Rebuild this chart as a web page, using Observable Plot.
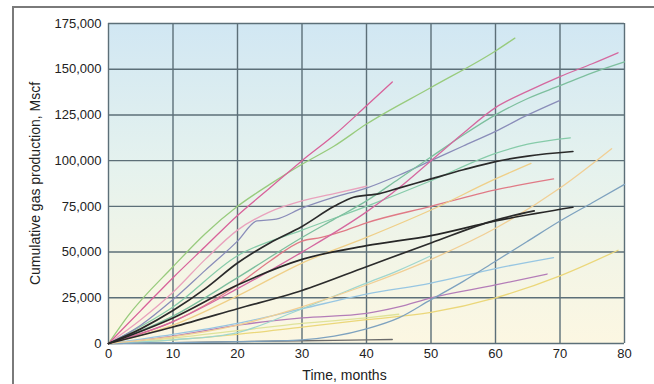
<!DOCTYPE html>
<html>
<head>
<meta charset="utf-8">
<script src="https://cdn.jsdelivr.net/npm/d3@7"></script>
<script src="https://cdn.jsdelivr.net/npm/@observablehq/plot@0.6"></script>
<style>
  html, body { margin: 0; padding: 0; background: #fff; }
  #wrap { position: relative; width: 654px; height: 384px; overflow: hidden; }
  #frame { position: absolute; left: 12px; top: 6px; width: 700px; height: 400px;
           border-left: 2px solid #7a7a7a; border-top: 2px solid #7a7a7a; pointer-events: none; }
  #chart { position: absolute; left: 0; top: 0; }
</style>
</head>
<body>
<div id="wrap"><div id="chart"></div><div id="frame"></div></div>
<script>
// ---- Data (months, Mscf) ----
const xTicks = [0, 10, 20, 30, 40, 50, 60, 70, 80];
const yTicks = [0, 25000, 50000, 75000, 100000, 125000, 150000, 175000];

const pinkA   = [[0,0],[5,18000],[10,36000],[15,53000],[20,70000],[25,85000],[30,100000],[35,114000],[40,130000],[44,143000]];
const greenA  = [[0,0],[3,15000],[10,42000],[15,60000],[20,75000],[25,87000],[30,98000],[35,108000],[40,120000],[50,140000],[60,160000],[63,167000]];
const pinkB   = [[0,0],[10,12000],[20,30000],[30,50000],[40,72000],[45,85000],[50,100000],[55,115000],[60,129000],[65,138000],[70,146000],[75,153000],[79,159000]];
const tealD   = [[0,0],[10,15000],[20,36000],[30,58000],[35,68000],[40,78000],[45,90000],[50,102000],[55,114000],[60,125000],[65,134000],[70,141000],[75,148000],[80,154000]];
const purpleE = [[0,0],[5,10000],[10,24000],[15,40000],[20,56000],[23,67000],[26,68000],[30,74000],[35,80000],[40,85000],[45,92000],[50,100000],[55,108000],[60,116000],[65,125000],[70,133000]];
const lightPink = [[0,0],[5,13000],[10,28000],[15,46000],[20,62000],[25,72000],[30,78000],[35,82000],[40,86000]];
const greenF  = [[0,0],[10,20000],[20,48000],[30,62000],[40,75000],[50,89000],[60,104000],[65,109000],[71.6,112500]];
const yellowJ = [[0,0],[10,10000],[20,26000],[30,44000],[40,58000],[50,73000],[60,90000],[65.5,98500]];
const pinkK   = [[0,0],[10,12000],[20,32000],[25,45000],[30,56000],[33,58000],[36,61000],[40,66000],[50,75000],[60,84000],[69,90000]];
const yellowB = [[0,0],[20,10000],[30,20000],[40,32000],[50,46000],[60,63000],[70,85000],[78,106500]];
const grayBlue = [[0,0],[10,500],[20,1000],[30,2000],[35,4000],[40,8000],[45,14000],[50,24000],[55,34000],[60,45000],[65,56000],[70,67000],[75,77000],[80,87000]];
const lightBlue = [[0,0],[10,5000],[20,11000],[30,19000],[40,27000],[50,33000],[60,41000],[69,47000]];
const purplePink = [[0,0],[10,4000],[20,10000],[30,14000],[40,16500],[45,20000],[50,25000],[60,32000],[68,38000]];
const yellowC = [[0,0],[10,2000],[20,5000],[30,9000],[40,13000],[50,17000],[60,25000],[70,37000],[79,51000]];
const darkFlat = [[0,0],[10,500],[20,1000],[30,1500],[40,2000],[44,2200]];
const lightYG = [[0,0],[10,3000],[20,7000],[30,11000],[40,14000],[45,16000]];
const lightTeal = [[0,0],[10,2000],[20,6000],[30,19000],[40,33000],[45,40000],[50,48000]];
const blackG  = [[0,0],[5,8000],[10,18000],[15,30000],[20,44000],[25,55000],[30,64000],[35,75000],[38,80000],[42,82000],[45,85000],[50,90000],[55,95000],[60,99500],[65,102500],[72,105000]];
const blackMid = [[0,0],[10,14000],[20,32000],[30,46000],[40,53500],[50,59000],[60,67000],[72,74500]];
const blackLow = [[0,0],[10,9000],[20,19000],[30,29000],[40,42000],[50,55000],[60,67500],[66,72500]];

// ---- series registry (name, points) and styles ----
const pastelSeries = [
  ["lightYG", lightYG], ["yellowC", yellowC], ["darkFlat", darkFlat], ["purplePink", purplePink],
  ["lightBlue", lightBlue], ["lightTeal", lightTeal], ["grayBlue", grayBlue], ["yellowB", yellowB],
  ["pinkK", pinkK], ["yellowJ", yellowJ], ["greenF", greenF], ["lightPink", lightPink],
  ["purpleE", purpleE], ["tealD", tealD], ["pinkB", pinkB], ["greenA", greenA], ["pinkA", pinkA]
];
const blackSeries = [["blackLow", blackLow], ["blackMid", blackMid], ["blackG", blackG]];
const colorOf = {
  lightYG: "#dfe39a", yellowC: "#ebd77a", darkFlat: "#6b6b6b", purplePink: "#b47db8",
  lightBlue: "#97c6e2", lightTeal: "#9fd6cf", grayBlue: "#7ea2bf", yellowB: "#f1cf95",
  pinkK: "#e07a86", yellowJ: "#efcf88", greenF: "#86cba9", lightPink: "#e9a2bd",
  purpleE: "#8a8db9", tealD: "#7dbf9e", pinkB: "#d5689f", greenA: "#98cb7d", pinkA: "#d8629a",
  blackLow: "#2b2b2b", blackMid: "#262626", blackG: "#2a2a2a"
};

const toRows = list => list.flatMap(([name, pts]) => pts.map(([t, v]) => ({s: name, t, v})));
const pastelRows = toRows(pastelSeries);
const blackRows = toRows(blackSeries);
const names = [...pastelSeries, ...blackSeries].map(d => d[0]);

const gridColor = "#5c6f78";

const chart = Plot.plot({
  width: 654,
  height: 384,
  marginLeft: 108,
  marginRight: 30,
  marginTop: 23,
  marginBottom: 41,
  style: {fontFamily: "'Liberation Sans', Arial, sans-serif", fontSize: "13px", color: "#222", background: "transparent"},
  x: {domain: [0, 80], ticks: xTicks, tickSize: 0, tickPadding: 5, label: null},
  y: {domain: [0, 175000], ticks: yTicks, tickFormat: d3.format(","), tickSize: 0, tickPadding: 7, label: null},
  color: {domain: names, range: names.map(n => colorOf[n])},
  marks: [
    Plot.ruleX(xTicks, {stroke: gridColor, strokeWidth: 1.4}),
    Plot.ruleY(yTicks, {stroke: gridColor, strokeWidth: 1.4}),
    Plot.line(pastelRows, {x: "t", y: "v", z: "s", stroke: "s", strokeWidth: 1.3, curve: "monotone-x"}),
    Plot.line(blackRows, {x: "t", y: "v", z: "s", stroke: "s", strokeWidth: 1.7, curve: "monotone-x"}),
    Plot.text(["Cumulative gas production, Mscf"], {frameAnchor: "left", dx: -73, rotate: -90, textAnchor: "middle", lineAnchor: "middle", className: "axis-title"}),
    Plot.text(["Time, months"], {frameAnchor: "bottom", dy: 32, dx: -22, textAnchor: "middle", lineAnchor: "middle", className: "axis-title"})
  ]
});

document.getElementById("chart").appendChild(chart);
const svg = d3.select(chart);
// font sizes as inline styles (tick labels 13px, titles 14px)
svg.selectAll("text").style("font-size", "13px").style("fill", "#222")
  .style("font-family", "'Liberation Sans', Arial, sans-serif");
svg.selectAll(".axis-title text, text.axis-title").style("font-size", "14px");

// background gradient under the grid, placed from the plot's own scales
const xs = chart.scale("x"), ys = chart.scale("y");
const fx = xs.apply ? v => xs.apply(v) : d3.scaleLinear(xs.domain, xs.range);
const fy = ys.apply ? v => ys.apply(v) : d3.scaleLinear(ys.domain, ys.range);
const defs = svg.insert("defs", ":first-child");
const grad = defs.append("linearGradient").attr("id", "bgGrad").attr("x1", 0).attr("y1", 0).attr("x2", 0).attr("y2", 1);
grad.append("stop").attr("offset", "0%").attr("stop-color", "#d1e7f3");
grad.append("stop").attr("offset", "45%").attr("stop-color", "#e5f2ee");
grad.append("stop").attr("offset", "75%").attr("stop-color", "#f3f5e6");
grad.append("stop").attr("offset", "100%").attr("stop-color", "#fcf7e2");
const X0 = fx(0), X1 = fx(80), Y0 = fy(175000), Y1 = fy(0);
svg.insert("rect", "g")
  .attr("x", Math.min(X0, X1)).attr("y", Math.min(Y0, Y1))
  .attr("width", Math.abs(X1 - X0)).attr("height", Math.abs(Y1 - Y0))
  .attr("fill", "url(#bgGrad)");
</script>
</body>
</html>
